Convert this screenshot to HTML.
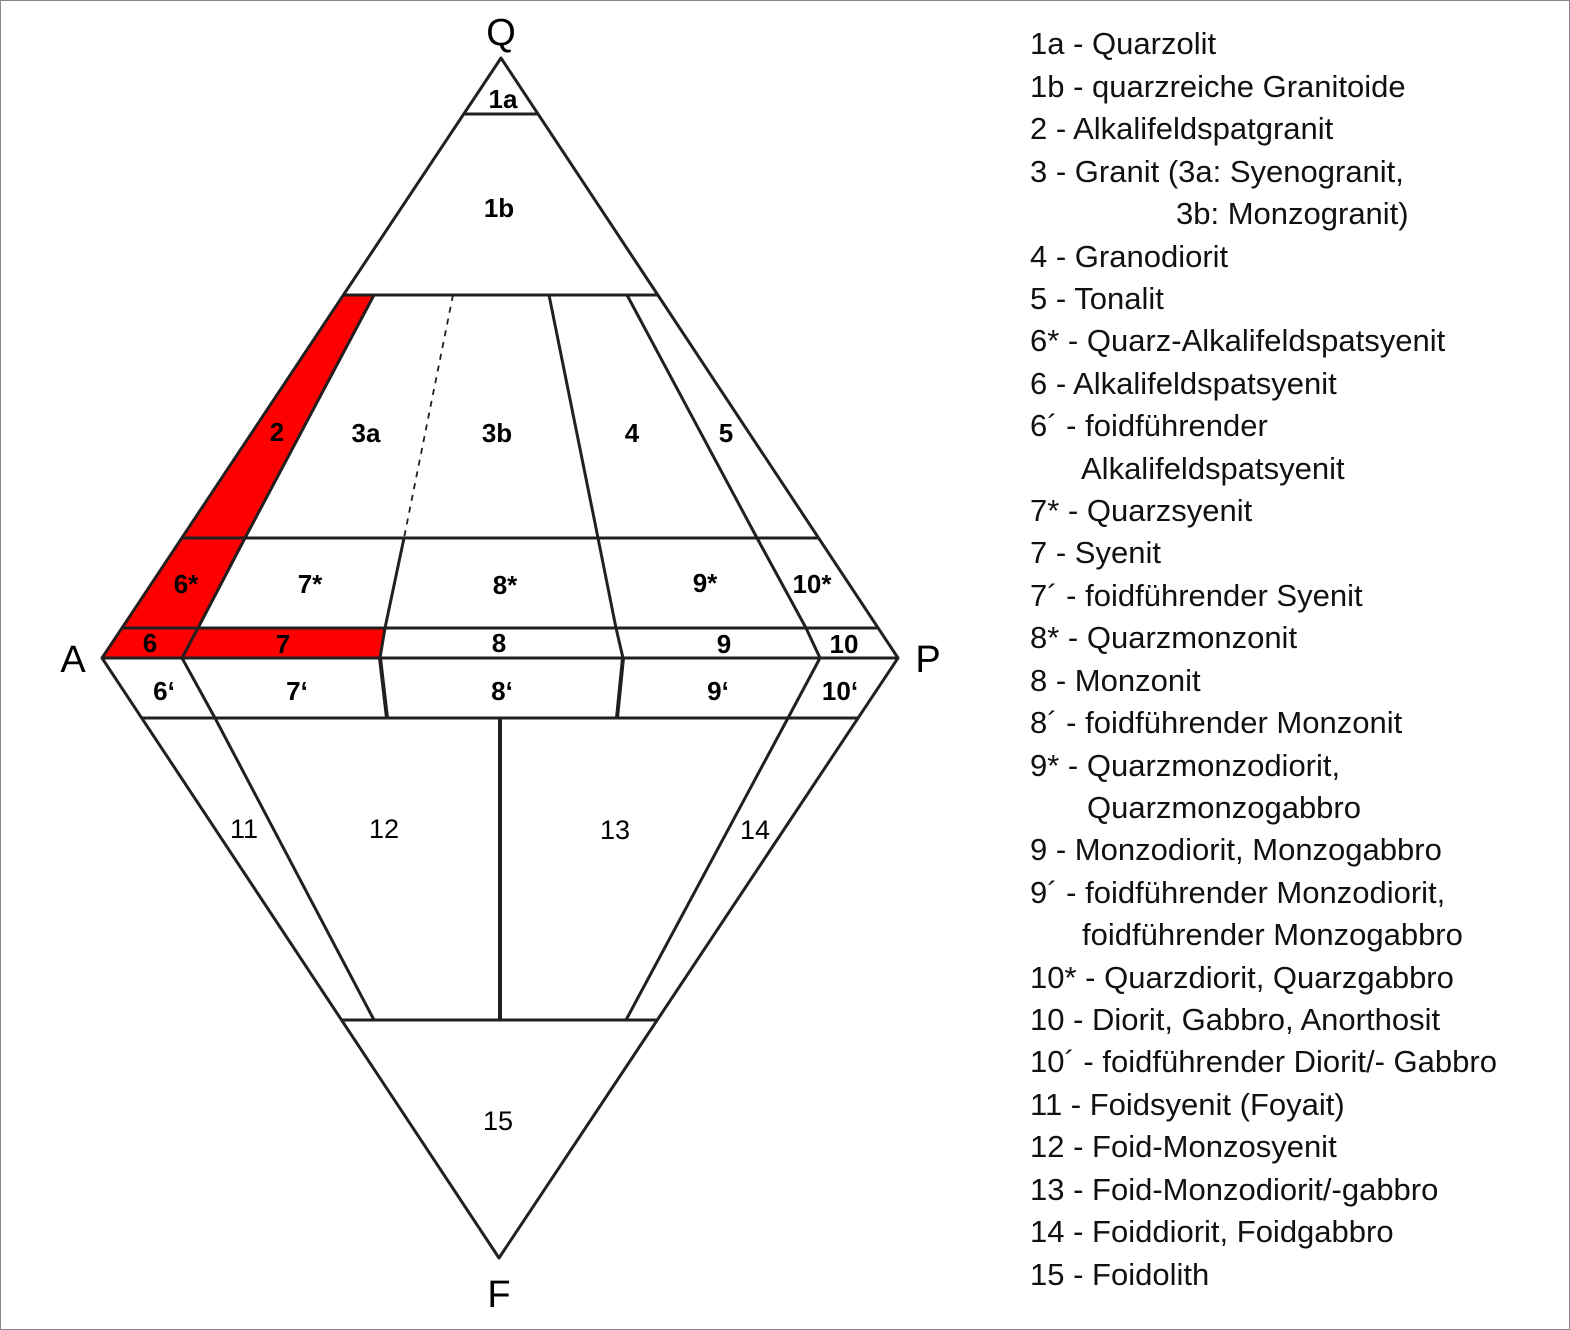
<!DOCTYPE html>
<html><head><meta charset="utf-8"><style>
body{margin:0;background:#fff}
.f{position:absolute;left:0;top:0;width:1568px;height:1328px;border:1px solid #888}
svg text{font-family:"Liberation Sans",sans-serif}
</style></head><body>
<div class="f"></div>
<svg width="1570" height="1330" style="position:absolute;left:0;top:0">
<g fill="#f00" stroke="none">
<polygon points="344,295 374,295 245,538 183,538"/>
<polygon points="183,538 245,538 198,628 122,628"/>
<polygon points="122,628 385,628 380,658 102,658"/>
</g>
<g stroke="#231f20" stroke-width="3" fill="none" stroke-linejoin="round">
<polygon points="501,58 898,658 499,1258 102,658"/>
<line x1="464" y1="114" x2="538" y2="114"/>
<line x1="343" y1="295" x2="658" y2="295"/>
<line x1="182" y1="538" x2="819" y2="538"/>
<line x1="122" y1="628" x2="878" y2="628"/>
<line x1="102" y1="658" x2="898" y2="658"/>
<line x1="142" y1="718" x2="858" y2="718"/>
<line x1="342" y1="1020" x2="657" y2="1020"/>
<polyline points="374,295 245,538 198,628 182,658 215,718 374,1020"/>
<line x1="453" y1="295" x2="404" y2="538" stroke-dasharray="6,6" stroke-width="1.8"/>
<polyline points="404,538 385,628 380,658"/>
<line x1="380" y1="658" x2="387" y2="718" stroke-width="4"/>
<polyline points="549,295 598,538 616,628 623,658"/>
<line x1="623" y1="658" x2="617" y2="718" stroke-width="4"/>
<polyline points="627,295 757,538 806,628 820,658 788,718 626,1020"/>
<line x1="500" y1="718" x2="500" y2="1020" stroke-width="4"/>
</g>
<g font-size="26" font-weight="bold" text-anchor="middle" fill="#000">
<text x="503" y="108">1a</text>
<text x="499" y="217">1b</text>
<text x="277" y="441">2</text>
<text x="366" y="442">3a</text>
<text x="497" y="442">3b</text>
<text x="632" y="442">4</text>
<text x="726" y="442">5</text>
<text x="186" y="593">6*</text>
<text x="310" y="593">7*</text>
<text x="505" y="594">8*</text>
<text x="705" y="592">9*</text>
<text x="812" y="593">10*</text>
<text x="150" y="652">6</text>
<text x="283" y="653">7</text>
<text x="499" y="652">8</text>
<text x="724" y="653">9</text>
<text x="844" y="653">10</text>
<text x="164" y="700">6‘</text>
<text x="297" y="700">7‘</text>
<text x="502" y="700">8‘</text>
<text x="718" y="700">9‘</text>
<text x="840" y="700">10‘</text>
<text x="244" y="838" font-weight="normal" font-size="27">11</text>
<text x="384" y="838" font-weight="normal" font-size="27">12</text>
<text x="615" y="839" font-weight="normal" font-size="27">13</text>
<text x="755" y="839" font-weight="normal" font-size="27">14</text>
<text x="498" y="1130" font-weight="normal" font-size="27">15</text>
</g>
<g font-size="38" text-anchor="middle" fill="#000">
<text x="501" y="45">Q</text>
<text x="73" y="672">A</text>
<text x="928" y="672">P</text>
<text x="499" y="1307">F</text>
</g>
<g font-size="31" fill="#111">
<text x="1030" y="54">1a - Quarzolit</text>
<text x="1030" y="97">1b - quarzreiche Granitoide</text>
<text x="1030" y="139">2 - Alkalifeldspatgranit</text>
<text x="1030" y="182">3 - Granit (3a: Syenogranit,</text>
<text x="1176" y="224">3b: Monzogranit)</text>
<text x="1030" y="267">4 - Granodiorit</text>
<text x="1030" y="309">5 - Tonalit</text>
<text x="1030" y="351">6* - Quarz-Alkalifeldspatsyenit</text>
<text x="1030" y="394">6 - Alkalifeldspatsyenit</text>
<text x="1030" y="436">6´ - foidführender</text>
<text x="1081" y="479">Alkalifeldspatsyenit</text>
<text x="1030" y="521">7* - Quarzsyenit</text>
<text x="1030" y="563">7 - Syenit</text>
<text x="1030" y="606">7´ - foidführender Syenit</text>
<text x="1030" y="648">8* - Quarzmonzonit</text>
<text x="1030" y="691">8 - Monzonit</text>
<text x="1030" y="733">8´ - foidführender Monzonit</text>
<text x="1030" y="776">9* - Quarzmonzodiorit,</text>
<text x="1087" y="818">Quarzmonzogabbro</text>
<text x="1030" y="860">9 - Monzodiorit, Monzogabbro</text>
<text x="1030" y="903">9´ - foidführender Monzodiorit,</text>
<text x="1082" y="945">foidführender Monzogabbro</text>
<text x="1030" y="988">10* - Quarzdiorit, Quarzgabbro</text>
<text x="1030" y="1030">10 - Diorit, Gabbro, Anorthosit</text>
<text x="1030" y="1072">10´ - foidführender Diorit/- Gabbro</text>
<text x="1030" y="1115">11 - Foidsyenit (Foyait)</text>
<text x="1030" y="1157">12 - Foid-Monzosyenit</text>
<text x="1030" y="1200">13 - Foid-Monzodiorit/-gabbro</text>
<text x="1030" y="1242">14 - Foiddiorit, Foidgabbro</text>
<text x="1030" y="1285">15 - Foidolith</text>
</g>
</svg>
</body></html>
